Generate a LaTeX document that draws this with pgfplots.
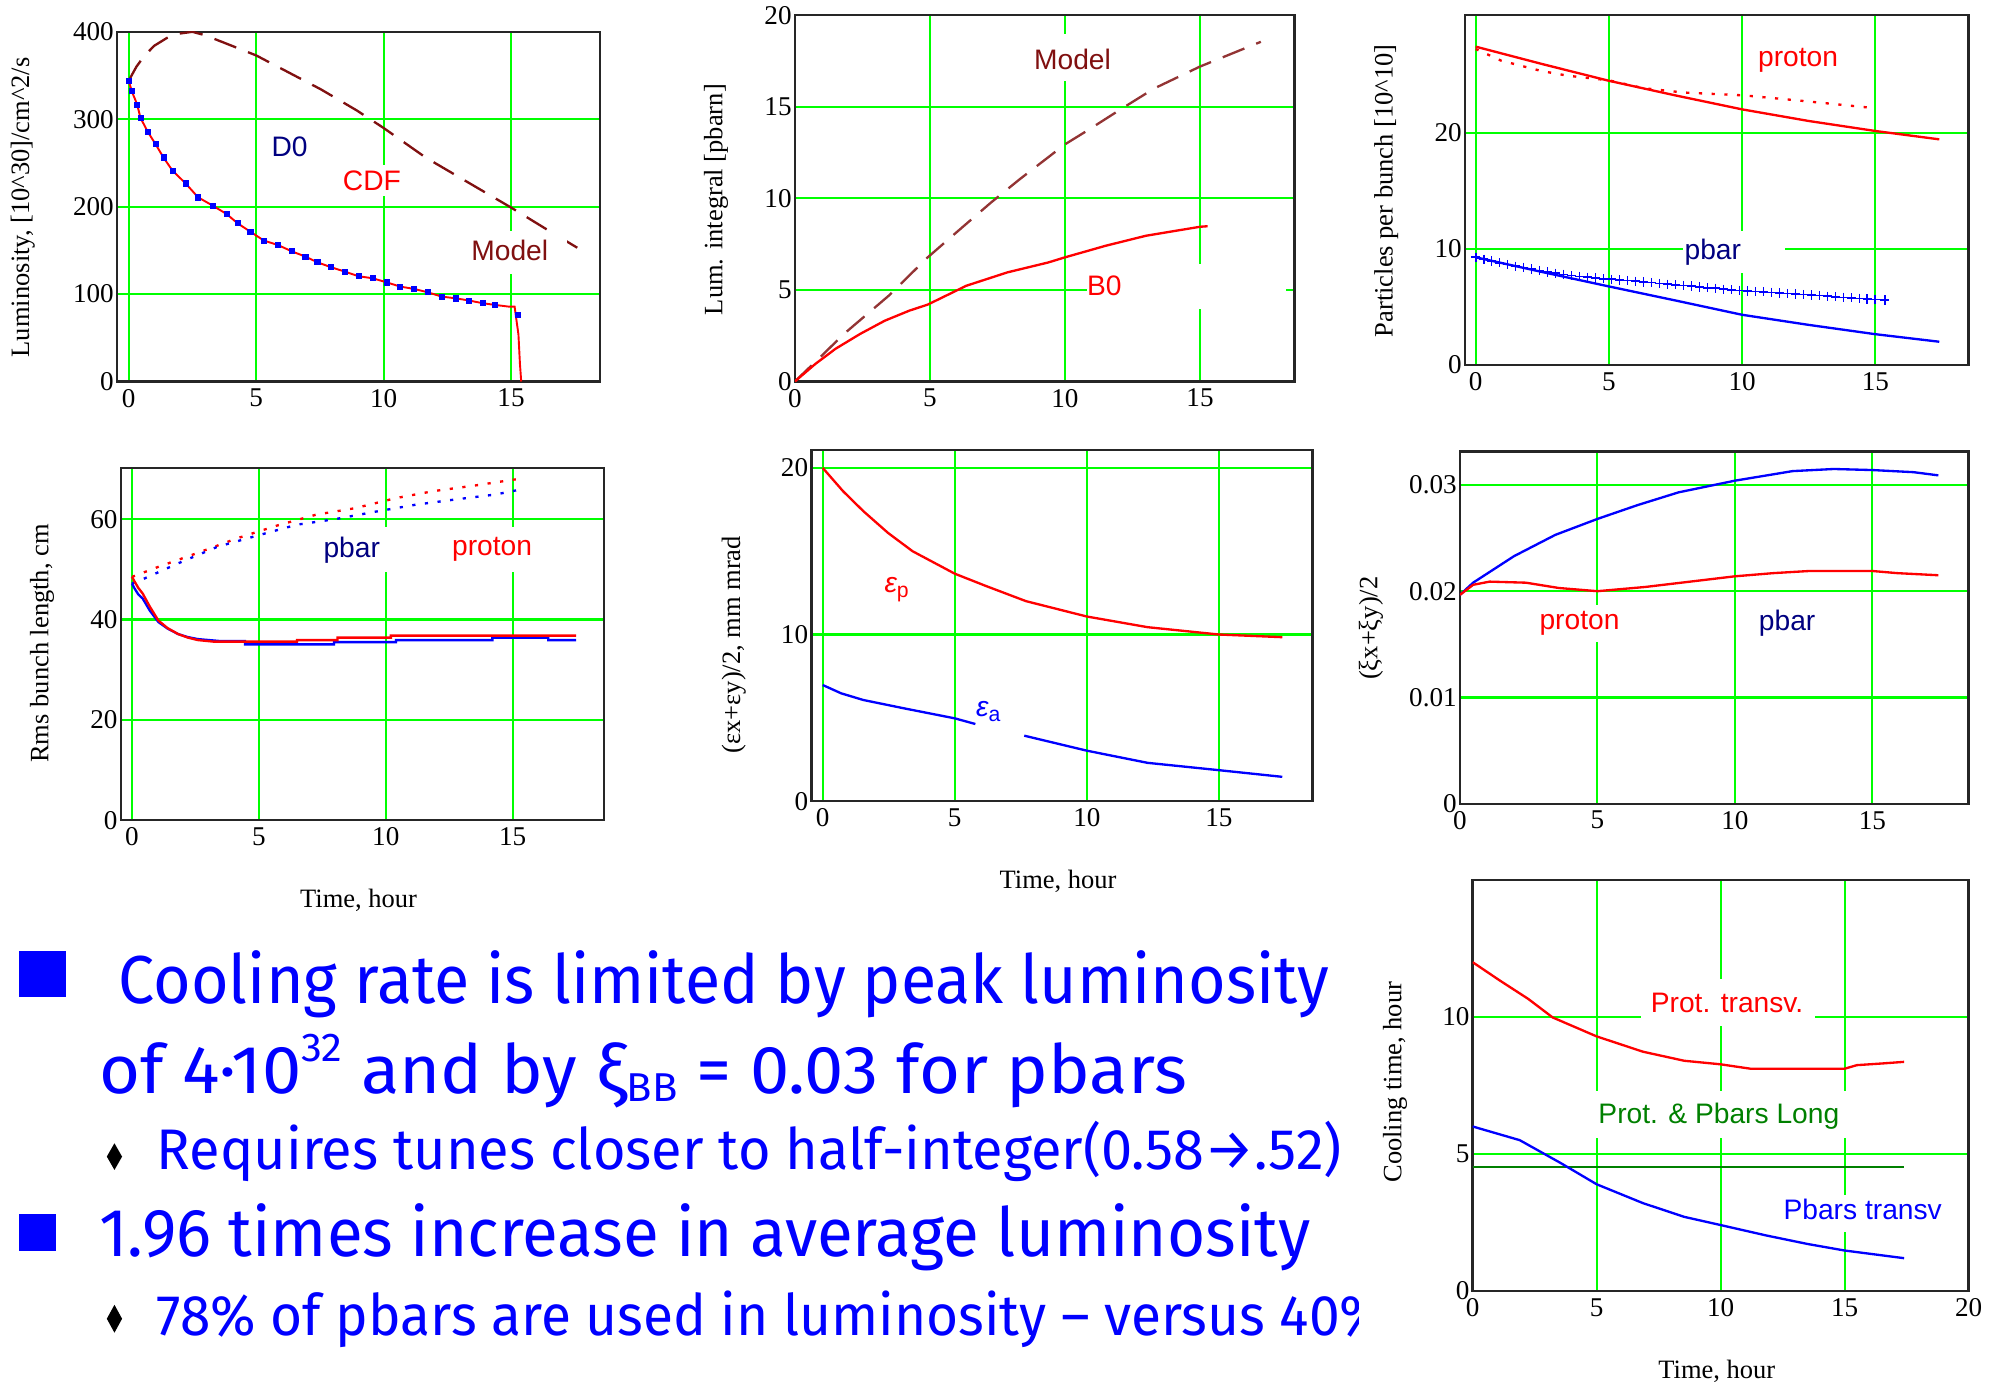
\documentclass[border=0pt]{standalone}
\usepackage{pgfplots}
\pgfplotsset{compat=1.18}
\usepackage{fontspec}
\usepackage{graphicx}
\setmainfont{Liberation Serif}
\newfontfamily\sansf{Liberation Sans}
\newfontfamily\bulf{Fira Sans}
\definecolor{gridg}{RGB}{0,255,0}
\definecolor{mred}{RGB}{255,0,0}
\definecolor{mblue}{RGB}{0,0,255}
\definecolor{navy}{RGB}{0,0,128}
\definecolor{maroon}{RGB}{128,16,16}
\definecolor{dgreen}{RGB}{0,128,0}
\newcommand\UU{0.6pt}
\newcommand\tickfont{\fontsize{12.8}{14}\selectfont}
\newcommand\labfont{\fontsize{12.5}{14}\selectfont}
\newcommand\inlab{\sansf\fontsize{13.3}{15}\selectfont}
\newcommand\bigf{\bulf\fontsize{32}{38}\selectfont}
\newcommand\midf{\bulf\fontsize{27}{32}\selectfont}
\newsavebox\lineC
\newdimen\dC
\pgfplotsset{mc/.style={
 scale only axis, anchor=south west,
 axis line style={line width=1.1pt, black!85},
 major tick length=0pt,
 grid=major, major grid style={gridg, line width=1pt},
 tick label style={font=\tickfont},
 /pgf/number format/assume math mode=true,
 scaled y ticks=false, scaled x ticks=false,
 yticklabel style={xshift=2pt},
 every axis plot/.append style={line width=1.1pt},
 xtick={0,5,10,15}, xticklabels={0,5,10,15},
}}
\begin{document}%
\sbox\lineC{\midf Requires tunes closer to half-integer(0.58→.52)}%
\dC=\wd\lineC
\pgfmathsetmacro\scC{559.2/\dC}%
\pgfmathsetmacro\scE{0.985*\scC}%
\begin{tikzpicture}
\useasboundingbox (0,0) rectangle (1568*\UU,-1091*\UU);

% ---------- Panel 1: Luminosity
\begin{axis}[mc, at={(92*\UU,-300*\UU)}, width=228pt, height=165pt,
  xmin=-0.46, xmax=18.5, ymin=0, ymax=400,
  ytick={0,100,200,300,400}, yticklabels={0,100,200,300,400}]
\addplot[maroon, dash pattern=on 11pt off 6pt] coordinates {
 (0,344)(0.3,360)(0.6,372)(1.0,384)(1.5,393)(2.0,398)(2.5,400)(3.0,396)(3.7,388)
 (5.0,373)(5.85,360)(7.55,334)(8.95,310)(10,290)(11.66,256)(13.3,228)(15,199)(16.4,174)(17.6,153)};
\addplot[mred, line width=0.9pt] coordinates {
 (0,344)(0.12,332)(0.33,317)(0.46,301.7)(0.74,286)(1.05,271.6)(1.36,256.4)(1.72,241.1)
 (2.23,226.7)(2.72,210.7)(3.30,201.1)(3.84,191.6)(4.27,181)(4.77,171.4)(5.31,161.1)
 (5.85,156.2)(6.39,149)(6.93,142.9)(7.40,136.4)(7.94,130.7)(8.48,125.7)(9.02,120.4)
 (9.57,118.1)(10.11,113.5)(10.65,108.6)(11.19,105.9)(11.73,102.1)(12.28,97.1)(12.82,95.2)
 (13.36,92.6)(13.90,89.5)(14.37,87.6)(14.9,85.7)(15.14,85.7)(15.19,75)(15.29,54)(15.35,20)(15.4,0)};
\addplot[only marks, mark=square*, mark size=1.2pt, mblue, line width=0.3pt] coordinates {
 (0,344)(0.12,332)(0.33,317)(0.46,301.7)(0.74,286)(1.05,271.6)(1.36,256.4)(1.72,241.1)
 (2.23,226.7)(2.72,210.7)(3.30,201.1)(3.84,191.6)(4.27,181)(4.77,171.4)(5.31,161.1)
 (5.85,156.2)(6.39,149)(6.93,142.9)(7.40,136.4)(7.94,130.7)(8.48,125.7)(9.02,120.4)
 (9.57,118.1)(10.11,113.5)(10.65,108.6)(11.19,105.9)(11.73,102.1)(12.28,97.1)(12.82,95.2)
 (13.36,92.6)(13.90,89.5)(14.37,87.6)(15.25,76.6)};
\fill[white] (axis cs:8.3,212) rectangle (axis cs:10.8,248);
\fill[white] (axis cs:13.2,123) rectangle (axis cs:17.2,172);
\node[font=\inlab, text=navy] at (axis cs:6.31,269) {D0};
\node[font=\inlab, text=mred] at (axis cs:9.54,230) {CDF};
\node[font=\inlab, text=maroon] at (axis cs:14.95,150) {Model};
\end{axis}

% ---------- Panel 2: Lum integral
\begin{axis}[mc, at={(625*\UU,-300*\UU)}, width=235.8pt, height=172.8pt,
  xmin=0, xmax=18.5, ymin=0, ymax=20,
  ytick={0,5,10,15,20}, yticklabels={0,5,10,15,20}]
\addplot[maroon!85!white, dash pattern=on 11pt off 6pt] coordinates {
 (0,0)(1.06,1.5)(1.82,2.6)(3.48,4.69)(4.92,6.78)(6.05,8.23)(7.26,9.77)(8.32,11.04)
 (10,12.95)(10.9,13.77)(12.1,14.9)(13.3,16.0)(15,17.2)(17.25,18.55)};
\addplot[mred] coordinates {
 (0,0)(0.76,0.96)(1.5,1.78)(2.42,2.6)(3.33,3.32)(4.24,3.87)(4.92,4.2)(6.35,5.23)
 (7.87,5.96)(9.38,6.5)(10,6.78)(11.5,7.41)(13,7.96)(15,8.45)(15.28,8.48)};
\fill[white] (axis cs:10.8,3.96) rectangle (axis cs:18.2,6.4);
\fill[white] (axis cs:8.6,16.4) rectangle (axis cs:12.0,19.0);
\node[font=\inlab, text=maroon] at (axis cs:10.28,17.6) {Model};
\node[font=\inlab, text=mred] at (axis cs:11.46,5.2) {B0};
\end{axis}

% ---------- Panel 3: Particles per bunch
\begin{axis}[mc, at={(1152*\UU,-287*\UU)}, width=237.6pt, height=165pt,
  xmin=-0.4, xmax=18.5, ymin=0, ymax=30.1,
  ytick={0,10,20}, yticklabels={0,10,20}]
\addplot[mred] coordinates {
 (0,27.4)(2.5,25.9)(5,24.46)(7.5,23.2)(10,22.0)(12.5,21.0)(15,20.14)(17.4,19.42)};
\addplot[mred, dash pattern=on 1.5pt off 4.5pt] coordinates {
 (0,27.2)(0.95,26.2)(2.47,25.3)(3.45,24.9)(5,24.5)(6.28,23.83)(7.8,23.45)(10.1,23.2)(12.4,22.7)(15,22.1)};
\addplot[mblue] coordinates {
 (0,9.27)(2.5,8.0)(5,6.76)(7.5,5.55)(10,4.32)(12.5,3.45)(15,2.65)(17.4,2.0)};
\addplot[only marks, mark=+, mark size=2.2pt, mblue, line width=0.8pt] coordinates {
 (0,9.27)(0.3,9.1)(0.6,8.95)(0.9,8.8)(1.2,8.65)(1.5,8.5)(1.8,8.4)(2.1,8.25)(2.4,8.12)
 (2.7,8.0)(3.0,7.9)(3.3,7.8)(3.6,7.7)(3.9,7.62)(4.2,7.55)(4.5,7.48)(4.8,7.42)(5.1,7.38)
 (5.4,7.32)(5.7,7.27)(6.0,7.2)(6.3,7.15)(6.6,7.1)(6.9,7.02)(7.2,6.95)(7.5,6.9)(7.8,6.85)
 (8.1,6.8)(8.4,6.72)(8.7,6.65)(9.0,6.6)(9.3,6.52)(9.6,6.47)(9.9,6.42)(10.2,6.38)(10.5,6.33)
 (10.8,6.3)(11.1,6.25)(11.4,6.2)(11.7,6.15)(12.0,6.1)(12.3,6.06)(12.6,6.02)(12.9,5.97)
 (13.2,5.92)(13.5,5.87)(13.8,5.82)(14.1,5.78)(14.4,5.73)(14.7,5.68)(15.0,5.64)(15.35,5.6)};
\fill[white] (axis cs:7.8,7.9) rectangle (axis cs:11.6,11.5);
\node[font=\inlab, text=mred] at (axis cs:12.1,26.2) {proton};
\node[font=\inlab, text=navy] at (axis cs:8.9,9.7) {pbar};
\end{axis}

% ---------- Panel 4: Rms bunch length
\begin{axis}[mc, at={(95*\UU,-645*\UU)}, width=228pt, height=166.2pt,
  xmin=-0.44, xmax=18.6, ymin=0, ymax=70.2,
  ytick={0,20,40,60}, yticklabels={0,20,40,60}]
\addplot[mred, dash pattern=on 1.5pt off 4.5pt] coordinates {
 (0,48.5)(1.04,50.5)(2.6,53.3)(4.15,56.2)(5.7,58.7)(7.26,60.9)(8.8,62.2)(10.4,64.2)(11.9,65.6)(13.5,66.7)(15.2,68.0)};
\addplot[mblue, dash pattern=on 1.5pt off 4.5pt] coordinates {
 (0,47.2)(0.5,48.2)(1.82,51.2)(3.37,54.5)(4.92,56.7)(6.5,58.9)(8,60)(9.6,61.5)(11.2,62.9)(12.7,63.9)(14.3,64.9)(15.2,65.8)};
\addplot[mblue] coordinates {
 (0,47.2)(0.1,46.2)(0.25,45)(0.42,44.2)(0.7,41.8)(1.04,39.5)(1.4,38.2)(1.82,37.1)(2.2,36.5)
 (2.6,36.1)(3.5,35.7)(4.45,35.7)(4.45,35.05)(7.96,35.05)(7.96,35.5)(10.4,35.5)(10.4,35.9)
 (14.2,35.9)(14.2,36.4)(16.4,36.4)(16.4,35.9)(17.5,35.9)};
\addplot[mred] coordinates {
 (0,48.5)(0.1,47.6)(0.25,46.3)(0.42,45.2)(0.7,42.6)(1.04,39.8)(1.4,38.3)(1.82,37.1)(2.2,36.4)
 (2.6,35.9)(3.2,35.6)(6.5,35.6)(6.5,35.9)(8.1,35.9)(8.1,36.4)(10.2,36.4)(10.2,36.8)(17.5,36.8)};
\fill[white] (axis cs:7.3,49.5) rectangle (axis cs:10.2,58.5);
\fill[white] (axis cs:12.3,49.5) rectangle (axis cs:16.2,58.5);
\node[font=\inlab, text=navy] at (axis cs:8.66,53.9) {pbar};
\node[font=\inlab, text=mred] at (axis cs:14.19,53.9) {proton};
\end{axis}

% ---------- Panel 5: Emittance
\begin{axis}[mc, at={(638*\UU,-630*\UU)}, width=236.4pt, height=165.6pt,
  xmin=-0.43, xmax=18.54, ymin=0, ymax=21.06,
  ytick={0,10,20}, yticklabels={0,10,20}]
\addplot[mred] coordinates {
 (0,20)(0.77,18.6)(1.54,17.4)(2.47,16.1)(3.4,15.0)(5,13.65)(6.2,12.9)(7.7,12.0)(10,11.08)(12.3,10.44)(15,10.0)(17.4,9.84)};
\addplot[mblue] coordinates {
 (0,6.97)(0.7,6.47)(1.54,6.07)(3.08,5.57)(5,4.97)(5.78,4.63)};
\addplot[mblue] coordinates {
 (7.63,3.93)(10,3.03)(12.3,2.3)(15,1.86)(17.4,1.46)};
\node[font=\inlab, text=mred] at (axis cs:2.8,12.7) {\itshape ε\raisebox{-0.35ex}{\upshape\fontsize{10}{10}\selectfont p}};
\node[font=\inlab, text=mblue] at (axis cs:6.27,5.4) {\itshape ε\raisebox{-0.35ex}{\upshape\fontsize{10}{10}\selectfont a}};
\end{axis}

% ---------- Panel 6: tune shift
\begin{axis}[mc, at={(1148*\UU,-632*\UU)}, width=240pt, height=166.2pt,
  xmin=0, xmax=18.5, ymin=0, ymax=0.03315,
  ytick={0,0.01,0.02,0.03}, yticklabels={0,0.01,0.02,0.03}]
\addplot[mblue] coordinates {
 (0,0.01965)(0.48,0.0208)(1.97,0.0233)(3.47,0.0253)(5,0.0268)(6.46,0.0281)(7.95,0.0293)
 (10,0.0304)(12.1,0.0313)(13.6,0.0315)(15,0.0314)(16.5,0.0312)(17.4,0.0309)};
\addplot[mred] coordinates {
 (0,0.01965)(0.48,0.0206)(1.08,0.0209)(2.4,0.0208)(3.6,0.0203)(5,0.0200)(6.75,0.0204)
 (8.7,0.021)(10,0.0214)(11.4,0.0217)(12.7,0.0219)(15,0.0219)(15.9,0.0217)(17.4,0.0215)};
\fill[white] (axis cs:2.7,0.0152) rectangle (axis cs:5.9,0.0187);
\node[font=\inlab, text=mred] at (axis cs:4.35,0.0170) {proton};
\node[font=\inlab, text=navy] at (axis cs:11.9,0.0170) {pbar};
\end{axis}

% ---------- Panel 7: Cooling time
\begin{axis}[mc, at={(1158*\UU,-1015*\UU)}, width=234pt, height=193.8pt,
  xmin=0, xmax=20, ymin=0, ymax=15,
  xtick={0,5,10,15,20}, xticklabels={0,5,10,15,20},
  ytick={0,5,10}, yticklabels={0,5,10}]
\addplot[mred] coordinates {
 (0,12.0)(1.08,11.34)(2.24,10.66)(3.23,9.98)(5,9.29)(6.87,8.73)(8.53,8.4)(10,8.27)
 (11.2,8.11)(15,8.11)(15.5,8.24)(16.5,8.3)(17.4,8.36)};
\addplot[dgreen] coordinates {(0,4.53)(17.4,4.53)};
\addplot[mblue] coordinates {
 (0,6.0)(1.9,5.5)(3.56,4.66)(5,3.89)(6.87,3.2)(8.53,2.7)(10,2.4)(11.84,2.02)(13.5,1.71)(15,1.47)(17.4,1.19)};
\fill[white] (axis cs:6.8,9.66) rectangle (axis cs:13.8,11.4);
\fill[white] (axis cs:4.7,5.57) rectangle (axis cs:15.4,7.3);
\fill[white] (axis cs:12.1,2.15) rectangle (axis cs:19.3,3.5);
\node[font=\inlab, text=mred] at (axis cs:10.26,10.5) {Prot. transv.};
\node[font=\inlab, text=dgreen] at (axis cs:9.93,6.37) {Prot. \& Pbars Long};
\node[font=\inlab, text=mblue] at (axis cs:15.73,2.96) {Pbars transv};
\end{axis}

% ---------- axis labels
\node[rotate=90, font=\labfont] at (18*\UU,-163*\UU) {Luminosity, [10\textasciicircum 30]/cm\textasciicircum 2/s};
\node[rotate=90, font=\labfont] at (563*\UU,-157*\UU) {Lum. integral [pbarn]};
\node[rotate=90, font=\labfont] at (1090*\UU,-150*\UU) {Particles per bunch [10\textasciicircum 10]};
\node[rotate=90, font=\labfont] at (33*\UU,-506*\UU) {Rms bunch length, cm};
\node[rotate=90, font=\labfont] at (577*\UU,-507*\UU) {(εx+εy)/2, mm mrad};
\node[rotate=90, font=\labfont] at (1078*\UU,-494*\UU) {(ξx+ξy)/2};
\node[rotate=90, font=\labfont] at (1097*\UU,-851*\UU) {Cooling time, hour};
\node[font=\labfont] at (282*\UU,-708*\UU) {Time, hour};
\node[font=\labfont] at (832*\UU,-693*\UU) {Time, hour};
\node[font=\labfont] at (1350*\UU,-1078*\UU) {Time, hour};

% ---------- bullet text
\fill[mblue] (15*\UU,-748*\UU) rectangle (52*\UU,-784*\UU);
\fill[mblue] (15*\UU,-955*\UU) rectangle (44*\UU,-984*\UU);
\fill[black] (90*\UU,-899*\UU) -- (96*\UU,-909.5*\UU) -- (90*\UU,-920*\UU) -- (84*\UU,-909.5*\UU) -- cycle;
\fill[black] (90*\UU,-1026*\UU) -- (96*\UU,-1037*\UU) -- (90*\UU,-1048*\UU) -- (84*\UU,-1037*\UU) -- cycle;
\node[anchor=base west, inner sep=0pt, text=mblue] at (93*\UU,-789*\UU)
  {\resizebox{571.2pt}{\height}{\bigf Cooling rate is limited by peak luminosity}};
\node[anchor=base west, inner sep=0pt, text=mblue] at (78*\UU,-860*\UU)
  {\resizebox{513pt}{\height}{\bigf of 4·10\raisebox{15pt}{\fontsize{19}{19}\selectfont 32} and by ξ\raisebox{-3.6pt}{\fontsize{19}{19}\selectfont BB} = 0.03 for pbars}};
\node[anchor=base west, inner sep=0pt, text=mblue] at (123*\UU,-920*\UU)
  {\scalebox{\scC}[1]{\midf Requires tunes closer to half-integer(0.58→.52)}};
\node[anchor=base west, inner sep=0pt, text=mblue] at (78*\UU,-988*\UU)
  {\resizebox{571.2pt}{\height}{\bigf 1.96 times increase in average luminosity}};
\begin{scope}
\clip (0,-1000*\UU) rectangle (1068*\UU,-1091*\UU);
\node[anchor=base west, inner sep=0pt, text=mblue] at (123*\UU,-1050*\UU)
  {\scalebox{\scE}[1]{\midf 78\% of pbars are used in luminosity – versus 40\%}};
\end{scope}
\end{tikzpicture}
\end{document}
